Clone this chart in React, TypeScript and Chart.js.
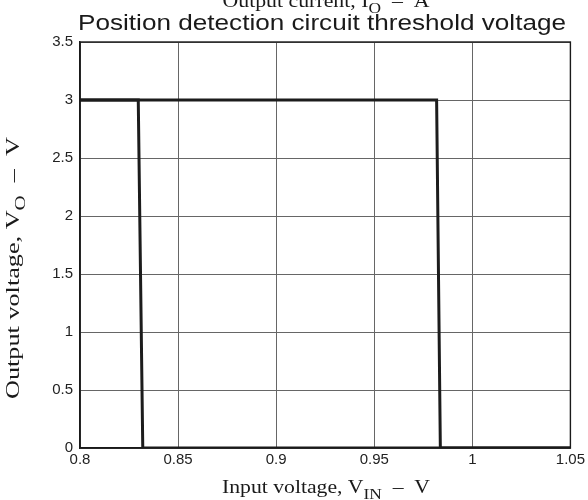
import React, { useEffect, useRef } from "react";
import { Chart, registerables } from "chart.js";

Chart.register(...registerables);

// Sweep 1 (falling threshold)
const sweepAX = [0.8, 0.8297, 0.832, 1.05];
const sweepAY = [3, 3, 0, 0];
// Sweep 2 (rising threshold)
const sweepBX = [0.8, 0.9818, 0.9837, 1.05];
const sweepBY = [3, 3, 0, 0];

const xTicks = [0.8, 0.85, 0.9, 0.95, 1, 1.05];
const xTickLabels = ["0.8", "0.85", "0.9", "0.95", "1", "1.05"];
const yTicks = [0, 0.5, 1, 1.5, 2, 2.5, 3, 3.5];
const yTickLabels = ["0", "0.5", "1", "1.5", "2", "2.5", "3", "3.5"];

const titleText = "Position detection circuit threshold voltage";
const topParts = [
  { t: "Output current, I", sub: false },
  { t: "O", sub: true },
  { t: "  –  A", sub: false },
];
const xTitleParts = [
  { t: "Input voltage, V", sub: false },
  { t: "IN", sub: true },
  { t: "  –  V", sub: false },
];
const yTitleParts = [
  { t: "Output voltage, V", sub: false },
  { t: "O", sub: true },
  { t: "  –  V", sub: false },
];

type Part = { t: string; sub: boolean };

function drawRich(
  ctx: CanvasRenderingContext2D,
  parts: Part[],
  cx: number,
  baseline: number,
  size: number,
  family: string,
  targetWidth: number
) {
  let total = 0;
  const m = parts.map((p) => {
    const s = p.sub ? size * 0.8 : size;
    ctx.font = `${s}px ${family}`;
    const w = ctx.measureText(p.t).width;
    total += w;
    return { ...p, s, w };
  });
  const sx = targetWidth / total;
  ctx.save();
  ctx.translate(cx, baseline);
  ctx.scale(sx, 1);
  let x = -total / 2;
  ctx.textAlign = "left";
  ctx.textBaseline = "alphabetic";
  for (const p of m) {
    ctx.font = `${p.s}px ${family}`;
    ctx.fillText(p.t, x, p.sub ? size * 0.3 : 0);
    x += p.w;
  }
  ctx.restore();
}

const textPlugin = {
  id: "customTexts",
  afterDraw(chart: any) {
    const ctx: CanvasRenderingContext2D = chart.ctx;
    const a = chart.chartArea;
    ctx.save();
    ctx.strokeStyle = "#1a1a1a";
    ctx.lineWidth = 1.4;
    ctx.strokeRect(a.left, a.top, a.right - a.left, a.bottom - a.top);

    ctx.fillStyle = "#1a1a1a";
    const serif = '"Liberation Serif", "DejaVu Serif", serif';
    // Top clipped text
    drawRich(ctx, topParts, 326, 7, 19, serif, 207);

    // Title
    ctx.font = '22.5px "Liberation Sans", Arial, sans-serif';
    const w = ctx.measureText(titleText).width;
    ctx.save();
    ctx.translate(322, 30);
    ctx.scale(488 / w, 1);
    ctx.textAlign = "center";
    ctx.textBaseline = "alphabetic";
    ctx.fillText(titleText, 0, 0);
    ctx.restore();

    // X title
    drawRich(ctx, xTitleParts, 326, 493, 19, serif, 208);

    // Y title
    ctx.save();
    ctx.translate(19, 268);
    ctx.rotate(-Math.PI / 2);
    drawRich(ctx, yTitleParts, 0, 0, 19, serif, 262);
    ctx.restore();

    ctx.restore();
  },
};

export default function App() {
  const ref = useRef<HTMLCanvasElement | null>(null);
  useEffect(() => {
    document.body.style.margin = "0";
    const canvas = ref.current;
    if (!canvas) return;
    const tickFont = { family: '"Liberation Sans", Arial, sans-serif', size: 15 };
    const chart = new Chart(canvas, {
      type: "line",
      data: {
        datasets: [
          {
            data: sweepAX.map((x, i) => ({ x, y: sweepAY[i] })),
            borderColor: "#1c1c1c",
            borderWidth: 3,
            pointRadius: 0,
            tension: 0,
            fill: false,
          },
          {
            data: sweepBX.map((x, i) => ({ x, y: sweepBY[i] })),
            borderColor: "#1c1c1c",
            borderWidth: 3,
            pointRadius: 0,
            tension: 0,
            fill: false,
          },
        ],
      },
      options: {
        animation: false,
        responsive: false,
        devicePixelRatio: 1,
        layout: { padding: { top: 42, right: 16, left: 0, bottom: 0 } },
        plugins: { legend: { display: false }, title: { display: false }, tooltip: { enabled: false } },
        scales: {
          x: {
            type: "linear",
            min: 0.8,
            max: 1.05,
            afterBuildTicks: (s: any) => {
              s.ticks = xTicks.map((v) => ({ value: v }));
            },
            afterFit: (s: any) => {
              s.height = 52;
            },
            ticks: {
              callback: (_v: any, i: number) => xTickLabels[i],
              font: tickFont,
              color: "#222",
              padding: 3,
              maxRotation: 0,
              autoSkip: false,
            },
            grid: { color: "#666", lineWidth: 1, drawTicks: false },
            border: { display: true, color: "#1a1a1a", width: 1.4 },
          },
          y: {
            type: "linear",
            min: 0,
            max: 3.5,
            afterBuildTicks: (s: any) => {
              s.ticks = yTicks.map((v) => ({ value: v }));
            },
            afterFit: (s: any) => {
              s.width = 80;
            },
            ticks: {
              callback: (_v: any, i: number) => yTickLabels[i],
              font: tickFont,
              color: "#222",
              padding: 7,
              autoSkip: false,
            },
            grid: { color: "#666", lineWidth: 1, drawTicks: false },
            border: { display: true, color: "#1a1a1a", width: 1.4 },
          },
        },
      },
      plugins: [textPlugin],
    } as any);
    return () => chart.destroy();
  }, []);
  return <canvas ref={ref} width={588} height={500} style={{ display: "block", width: 588, height: 500 }} />;
}
